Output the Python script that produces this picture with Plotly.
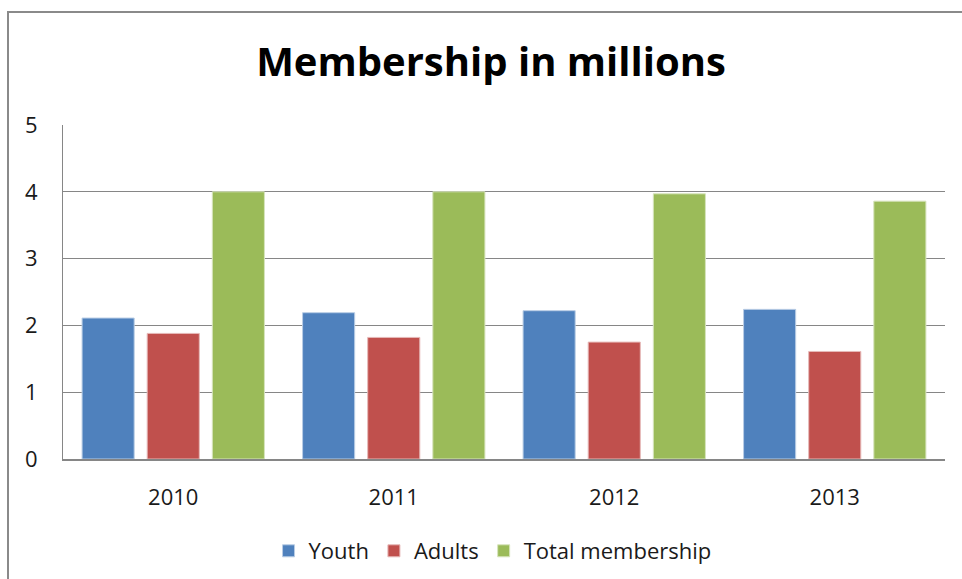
import plotly.graph_objects as go

years = ["2010", "2011", "2012", "2013"]
youth = [2.11, 2.19, 2.22, 2.24]
adults = [1.88, 1.82, 1.75, 1.61]
total = [4.0, 4.0, 3.97, 3.86]
series_names = ["Youth", "Adults", "Total membership"]
colors = ["#4F81BD", "#C0504D", "#9BBB59"]
edge_colors = ["#B9CDE5", "#E6B9B8", "#D7E4BD"]
y_ticks = [0, 1, 2, 3, 4, 5]

W, H = 962, 579
L, R, T, B = 63, 17, 125, 120
pw, ph = W - L - R, H - T - B

fig = go.Figure()
for name, vals, c, ec in zip(series_names, [youth, adults, total], colors, edge_colors):
    fig.add_trace(go.Bar(x=years, y=vals, name=name, marker=dict(color=c, line=dict(color=ec, width=1))))

font_family = "'Open Sans', sans-serif"
fig.update_layout(
    width=W, height=H,
    margin=dict(l=L, r=R, t=T, b=B, autoexpand=False),
    paper_bgcolor="white", plot_bgcolor="white",
    barmode="group", bargap=0.114, bargroupgap=0.2,
    title=dict(text="<b>Membership in millions</b>", x=491 / W, xanchor="center",
               y=1 - 62 / H, yanchor="middle",
               font=dict(family=font_family, size=40, color="#000000")),
    font=dict(family=font_family, size=22, color="#1a1a1a"),
    legend=dict(orientation="h", x=0.487, xanchor="center", y=-(551 - 459) / ph, yanchor="middle",
                font=dict(size=22, color="#1a1a1a"), itemwidth=30, traceorder="normal"),
    xaxis=dict(showgrid=False, showline=True, linecolor="#868686", linewidth=2,
               ticks="", ticklabelstandoff=18, tickfont=dict(size=22)),
    yaxis=dict(range=[0, 5], tickvals=y_ticks, showgrid=True, gridcolor="#868686", gridwidth=1,
               showline=True, linecolor="#868686", linewidth=1, zeroline=False,
               ticks="", ticklabelstandoff=20, tickfont=dict(size=22)),
    shapes=[dict(type="rect", xref="paper", yref="paper",
                 x0=(8 - L) / pw, x1=(W + 20 - L) / pw,
                 y0=-(H + 20 - (T + ph)) / ph, y1=(T + ph - 12) / ph,
                 line=dict(color="#8a8a8a", width=2), layer="below")],
)

fig.write_html("out.html")
